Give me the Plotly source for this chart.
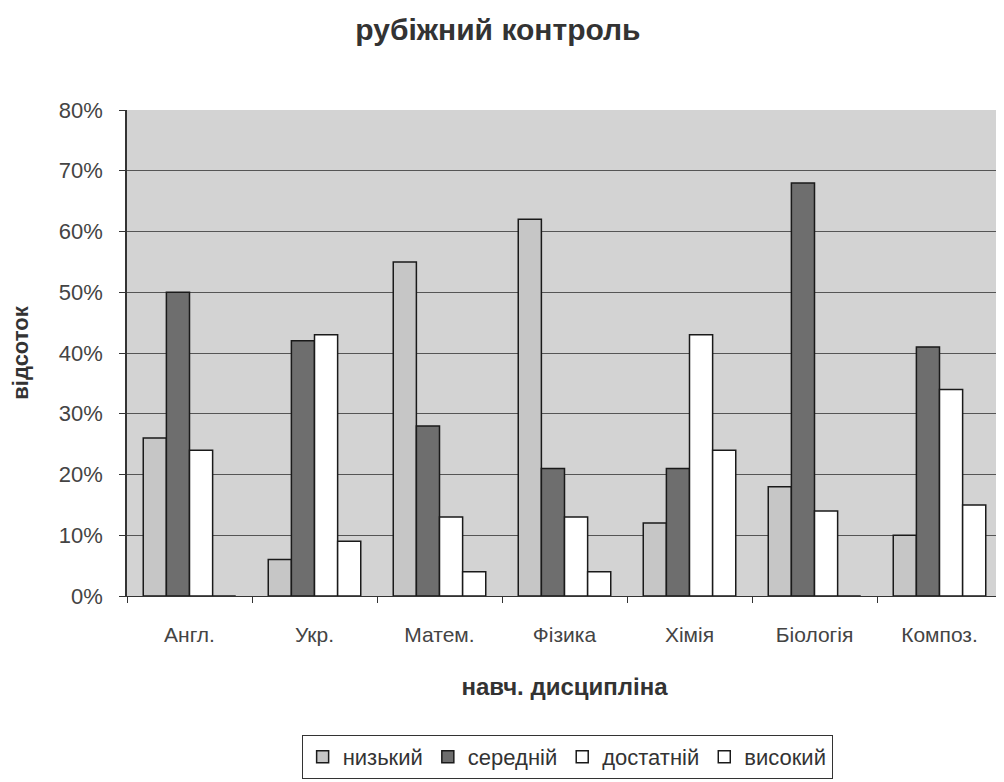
import plotly.graph_objects as go

categories = ["Англ.", "Укр.", "Матем.", "Фізика", "Хімія", "Біологія", "Композ."]
series_names = ["низький", "середній", "достатній", "високий"]
low = [26, 6, 55, 62, 12, 18, 10]
mid = [50, 42, 28, 21, 21, 68, 41]
suff = [24, 43, 13, 13, 43, 14, 34]
high = [0, 9, 4, 4, 24, 0, 15]
y_ticks = [0, 10, 20, 30, 40, 50, 60, 70, 80]
y_tick_labels = [f"{v}%" for v in y_ticks]

colors = ["#c6c6c6", "#6e6e6e", "#ffffff", "#ffffff"]
values = [low, mid, suff, high]

font_family = "Liberation Sans, Arial, sans-serif"

fig = go.Figure()
for name, vals, col in zip(series_names, values, colors):
    fig.add_trace(go.Bar(
        name=name, x=categories, y=vals,
        marker=dict(color=col, line=dict(color="#1a1a1a", width=1.5)),
    ))

fig.update_layout(
    width=1004, height=782,
    barmode="group", bargap=0.26, bargroupgap=0.0,
    paper_bgcolor="#ffffff", plot_bgcolor="#d3d3d3",
    margin=dict(l=119, r=10, t=102, b=194, autoexpand=False),
    font=dict(family=font_family, color="#222222"),
    title=dict(text="<b>рубіжний контроль</b>", x=0.488, xanchor="center",
               y=0.972, yanchor="middle", font=dict(size=30, color="#333333")),
    showlegend=True,
    legend=dict(orientation="h", x=0.503, xanchor="center", y=-0.286, yanchor="top",
                bordercolor="#333333", borderwidth=1, bgcolor="#ffffff",
                font=dict(size=22, color="#333333"), traceorder="normal",
                itemwidth=30, tracegroupgap=0),
)
fig.update_xaxes(
    tickfont=dict(size=21, color="#444444"),
    showline=True, linecolor="#333333", linewidth=1,
    ticks="outside", tickson="boundaries", ticklen=6, tickcolor="#333333",
    ticklabelstandoff=20,
    automargin=False,
    title=dict(text="<b>навч. дисципліна</b>", font=dict(size=24, color="#333333"), standoff=32),
)
fig.update_yaxes(
    range=[0, 80], tickvals=y_ticks, ticktext=y_tick_labels,
    tickfont=dict(size=22, color="#444444"),
    showgrid=True, gridcolor="#555555", gridwidth=1,
    showline=True, linecolor="#333333", linewidth=1.5,
    ticks="outside", ticklen=6, tickcolor="#333333",
    ticklabelstandoff=12,
    zeroline=False, automargin=False,
    title=dict(text="<b>відсоток</b>", font=dict(size=22, color="#333333"), standoff=24),
)

fig.write_html("out.html")
